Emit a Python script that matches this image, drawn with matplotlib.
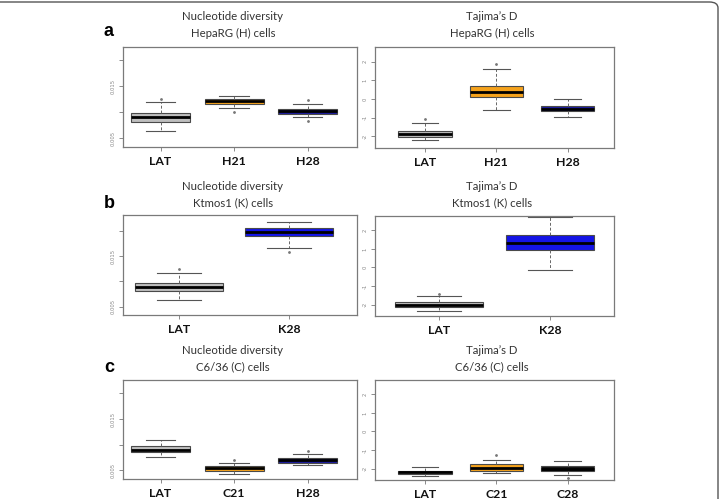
import matplotlib.pyplot as plt
from matplotlib.patches import FancyBboxPatch

# ---- data (box stats per group) ----
# a: HepaRG (H) cells
nd_a_labels = ["LAT", "H21", "H28"]
nd_a_q1 = [0.00808, 0.01167, 0.00975]
nd_a_med = [0.00904, 0.01210, 0.01020]
nd_a_q3 = [0.00981, 0.01256, 0.01071]
nd_a_lo = [0.00635, 0.01090, 0.00910]
nd_a_hi = [0.01192, 0.01321, 0.01154]
nd_a_out = [[0.0125], [0.01006], [0.01244, 0.00833]]

td_a_labels = ["LAT", "H21", "H28"]
td_a_q1 = [-2.01, 0.09, -0.66]
td_a_med = [-1.85, 0.39, -0.52]
td_a_q3 = [-1.69, 0.69, -0.37]
td_a_lo = [-2.20, -0.57, -0.98]
td_a_hi = [-1.26, 1.60, -0.02]
td_a_out = [[-1.08], [1.85], []]

# b: Ktmos1 (K) cells
nd_b_labels = ["LAT", "K28"]
nd_b_q1 = [0.00820, 0.01892]
nd_b_med = [0.00898, 0.01977]
nd_b_q3 = [0.00977, 0.02063]
nd_b_lo = [0.00637, 0.01663]
nd_b_hi = [0.01160, 0.02173]
nd_b_out = [[0.01245], [0.01584]]

td_b_labels = ["LAT", "K28"]
td_b_q1 = [-2.15, 0.97]
td_b_med = [-2.00, 1.30]
td_b_q3 = [-1.87, 1.75]
td_b_lo = [-2.34, -0.15]
td_b_hi = [-1.53, 2.70]
td_b_out = [[-1.42], []]

# c: C6/36 (C) cells
nd_c_labels = ["LAT", "C21", "H28"]
nd_c_q1 = [0.00852, 0.00487, 0.00635]
nd_c_med = [0.00904, 0.00538, 0.00692]
nd_c_q3 = [0.00967, 0.00583, 0.00744]
nd_c_lo = [0.00756, 0.00437, 0.00596]
nd_c_hi = [0.01096, 0.00648, 0.00813]
nd_c_out = [[], [0.00706], [0.00871]]

td_c_labels = ["LAT", "C21", "C28"]
td_c_q1 = [-2.29, -2.15, -2.15]
td_c_med = [-2.20, -1.96, -2.00]
td_c_q3 = [-2.11, -1.78, -1.88]
td_c_lo = [-2.42, -2.23, -2.34]
td_c_hi = [-1.93, -1.53, -1.62]
td_c_out = [[], [-1.26], [-2.49]]

nd_ticks = [0.005, 0.010, 0.015, 0.020]
nd_ticklabels = ["0.005", "", "0.015", ""]
td_ticks = [-2, -1, 0, 1, 2]
td_ticklabels = ["-2", "-1", "0", "1", "2"]

GREY = "#bebebe"
ORANGE = "#f5a21c"
NAVY = "#1c1ca0"
BLUE = "#1414e6"

W, H = 720, 499
fig = plt.figure(figsize=(W / 100, H / 100), dpi=100)
fig.patch.set_facecolor("white")

# outer rounded frame (only top and right edges are visible)
frame = FancyBboxPatch((-20 / W, -20 / H), (718 + 20) / W, (H - 2 + 20) / H,
                       boxstyle="round,pad=0,rounding_size=0.012",
                       transform=fig.transFigure, facecolor="none",
                       edgecolor="#555555", lw=1.0)
fig.patches.append(frame)


def px_axes(l, t, r, b):
    return fig.add_axes([l / W, 1 - b / H, (r - l) / W, (b - t) / H])


def draw_panel(ax, labels, colors, q1, med, q3, lo, hi, out, xlim, ylim,
               ticks, ticklabels, width):
    stats = [dict(label=lb, q1=a, med=m, q3=c, whislo=w1, whishi=w2, fliers=f)
             for lb, a, m, c, w1, w2, f in zip(labels, q1, med, q3, lo, hi, out)]
    pos = list(range(1, len(labels) + 1))
    bp = ax.bxp(stats, positions=pos, widths=width, patch_artist=True,
                boxprops=dict(edgecolor="#4a4a4a", lw=0.8),
                medianprops=dict(color="black", lw=2.0, solid_capstyle="butt"),
                whiskerprops=dict(color="#666666", lw=0.7, ls=(0, (3, 2))),
                capprops=dict(color="#555555", lw=0.8),
                flierprops=dict(marker=".", ms=2, markerfacecolor="#777777",
                                markeredgecolor="#777777"))
    for box, col in zip(bp["boxes"], colors):
        box.set_facecolor(col)
    ax.set_xlim(*xlim)
    ax.set_ylim(*ylim)
    ax.set_yticks(ticks)
    ax.set_yticklabels(ticklabels, rotation=90, va="center", fontsize=3.8,
                       color="#888888")
    ax.set_xticks(pos)
    ax.set_xticklabels(labels, family="Lato", fontweight="bold", fontsize=8.8,
                       color="#111111")
    ax.tick_params(axis="y", length=3, width=0.6, color="#777777", pad=2.5)
    ax.tick_params(axis="x", length=3, width=0.6, color="#777777", pad=3.5)
    for sp in ax.spines.values():
        sp.set_color("#7a7a7a")
        sp.set_linewidth(0.9)


def title(x, y, l1, l2):
    fig.text(x / W, 1 - y / H, l1, ha="center", va="center", family="Lato",
             fontsize=8.2, color="#333333")
    fig.text(x / W, 1 - (y + 16) / H, l2, ha="center", va="center",
             family="Lato", fontsize=8.2, color="#333333")


nd_ylim = (0.0033, 0.0226)
td_ylim = (-2.62, 2.78)

# panel a
ax = px_axes(123, 47, 357, 147)
draw_panel(ax, nd_a_labels, [GREY, ORANGE, NAVY], nd_a_q1, nd_a_med, nd_a_q3,
           nd_a_lo, nd_a_hi, nd_a_out, (0.49, 3.67), nd_ylim,
           nd_ticks, nd_ticklabels, 0.8)
ax = px_axes(375, 47, 614, 148)
draw_panel(ax, td_a_labels, [GREY, ORANGE, NAVY], td_a_q1, td_a_med, td_a_q3,
           td_a_lo, td_a_hi, td_a_out, (0.30, 3.65), td_ylim,
           td_ticks, td_ticklabels, 0.75)
title(233, 17, "Nucleotide diversity", "HepaRG (H) cells")
title(492, 17, "Tajima\u2019s D", "HepaRG (H) cells")

# panel b
ax = px_axes(123, 215, 357, 315)
draw_panel(ax, nd_b_labels, [GREY, BLUE], nd_b_q1, nd_b_med, nd_b_q3,
           nd_b_lo, nd_b_hi, nd_b_out, (0.49, 2.62), (0.0034, 0.0231),
           nd_ticks, nd_ticklabels, 0.8)
ax = px_axes(375, 216, 614, 316)
draw_panel(ax, td_b_labels, [GREY, BLUE], td_b_q1, td_b_med, td_b_q3,
           td_b_lo, td_b_hi, td_b_out, (0.42, 2.58), td_ylim,
           td_ticks, td_ticklabels, 0.8)
title(233, 187, "Nucleotide diversity", "Ktmos1 (K) cells")
title(492, 187, "Tajima\u2019s D", "Ktmos1 (K) cells")

# panel c
ax = px_axes(123, 380, 357, 479)
draw_panel(ax, nd_c_labels, [GREY, ORANGE, NAVY], nd_c_q1, nd_c_med, nd_c_q3,
           nd_c_lo, nd_c_hi, nd_c_out, (0.49, 3.67), nd_ylim,
           nd_ticks, nd_ticklabels, 0.8)
ax = px_axes(375, 380, 614, 480)
draw_panel(ax, td_c_labels, [GREY, ORANGE, "#151515"], td_c_q1, td_c_med,
           td_c_q3, td_c_lo, td_c_hi, td_c_out, (0.30, 3.65), td_ylim,
           td_ticks, td_ticklabels, 0.75)
title(233, 351, "Nucleotide diversity", "C6/36 (C) cells")
title(492, 351, "Tajima\u2019s D", "C6/36 (C) cells")

# panel letters
for letter, y in [("a", 32), ("b", 203), ("c", 367)]:
    fig.text(109 / W, 1 - y / H, letter, ha="center", va="center",
             family="Liberation Sans", fontweight="bold", fontsize=13,
             color="black")

fig.savefig("out.png", dpi=100)
